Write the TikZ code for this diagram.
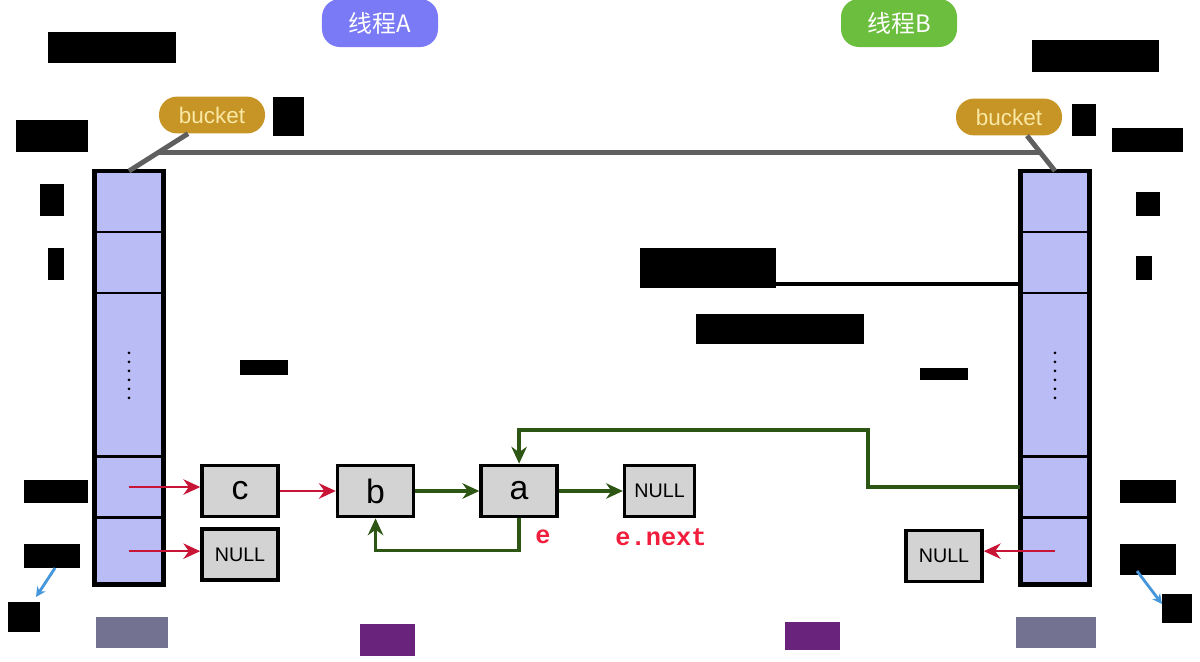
\documentclass[tikz,border=0pt]{standalone}
\usepackage{fontspec}
\setmainfont{Liberation Sans}
\setsansfont{Liberation Sans}
\newfontfamily\cjkfont{Noto Sans CJK SC}
\newfontfamily\codefont{Liberation Mono}
\usetikzlibrary{arrows.meta}
\usetikzlibrary{positioning,calc}
\definecolor{cellblue}{RGB}{186,188,246}
\definecolor{boxgray}{RGB}{211,211,211}
\definecolor{bucketgold}{RGB}{199,148,38}
\definecolor{buckettext}{RGB}{250,232,165}
\definecolor{threadblue}{RGB}{122,122,246}
\definecolor{threadgreen}{RGB}{108,190,62}
\definecolor{linkgreen}{RGB}{45,85,20}
\definecolor{linkred}{RGB}{200,20,55}
\definecolor{labelred}{RGB}{240,30,60}
\definecolor{pointblue}{RGB}{70,150,220}
\definecolor{shadegray}{RGB}{95,95,95}
\definecolor{notepurple}{RGB}{105,35,125}
\definecolor{notegray}{RGB}{115,115,145}
\tikzset{
	every node/.style={font=\sffamily}
}
\tikzset{
	cell/.style={rectangle,draw=black,line width=0.8pt,fill=cellblue,minimum width=1.7cm,inner sep=0pt},
	list node/.style={rectangle,draw=black,line width=2.5pt,fill=boxgray,minimum width=1.9cm,minimum height=1.28cm,font=\sffamily\fontsize{24}{24}\selectfont},
	null node/.style={list node,font=\sffamily\fontsize{14}{14}\selectfont},
	bucket tag/.style={rectangle,rounded corners=0.45cm,fill=bucketgold,text=buckettext,minimum width=2.65cm,minimum height=0.92cm,font=\sffamily\fontsize{16}{16}\selectfont},
	thread tag/.style={rectangle,rounded corners=0.45cm,text=white,minimum width=2.9cm,minimum height=1.2cm,font=\cjkfont\fontsize{17}{17}\selectfont}
}
\tikzset{
	>={Stealth[length=12pt,width=11pt]},
	red link/.style={->,draw=linkred,line width=1.6pt},
	green link/.style={->,draw=linkgreen,line width=2.6pt},
	gray link/.style={draw=shadegray,line width=3.5pt},
	blue pointer/.style={-{Stealth[length=7pt,width=7pt]},draw=pointblue,line width=2pt},
	e label/.style={text=labelred,font=\codefont\bfseries\fontsize{18}{18}\selectfont}
}

\begin{document}
\begin{tikzpicture}[x=0.025cm,y=-0.025cm]
	\useasboundingbox (0,0) rectangle (1200,662);
	% thread tags
	\node[thread tag,fill=threadblue] (threadA) at (380,23) {线程A};
	\node[thread tag,fill=threadgreen] (threadB) at (899,23) {线程B};
	% bucket arrays
	\foreach \side/\xc in {L/129,R/1055} {
		\node[cell,minimum height=1.5cm,anchor=north] (\side0) at (\xc,171) {};
		\node[cell,minimum height=1.5cm] (\side1) [below=0pt of \side0] {};
		\node[cell,minimum height=4.05cm] (\side2) [below=0pt of \side1] {};
		\node[cell,minimum height=1.5cm] (\side3) [below=0pt of \side2] {};
		\node[cell,minimum height=1.65cm] (\side4) [below=0pt of \side3] {};
		\draw[line width=3.2pt] (\side0.north west) rectangle (\side4.south east);
		\foreach \k in {0,...,5}
			\fill ($(\side2.center)+(0,-22+\k*9)$) circle (1.1pt);
	}
	\node[bucket tag] (bucketL) at (212,115) {bucket};
	\node[bucket tag] (bucketR) at (1009,117) {bucket};
	% list nodes
	\node[list node] (c) at (240,491) {c};
	\node[null node] (nullL) [below=0.22cm of c] {NULL};
	\node[list node] (b) [right=1.4cm of c] {b};
	\node[list node] (a) [right=1.6cm of b] {a};
	\node[null node,minimum width=1.75cm] (nullM) [right=1.6cm of a] {NULL};
	\node[null node] (nullR) at (944,556) {NULL};
	\node[e label] (e) at (543,537) {e};
	\node[e label] (enext) at (661,537) {e.next};
	% bucket pointers
	\coordinate (bl) at ($(bucketL.south)+(-24,0)$);
	\coordinate (br) at ($(bucketR.south)+(18,0)$);
	\draw[gray link] (bl) -- coordinate (hl) (L0.north);
	\draw[gray link] (br) -- coordinate (hr) (R0.north);
	\draw[gray link] (hl) -- (hl -| hr);
	% links
	\draw[red link] (L3.center) -- (L3.center -| c.west);
	\draw[red link] (L4.center) -- (L4.center -| nullL.west);
	\draw[red link] (c) -- (b);
	\draw[green link] (b) -- (a);
	\draw[green link] (a) -- (nullM);
	\draw[green link] (a.south) -- ++(0,32) -| (b.south);
	\coordinate (bend) at (868,430);
	\draw[green link] (R3.west) -| (bend) -| (a.north);
	\draw[red link] (R4.center) -- (R4.center -| nullR.east);
	\coordinate (tick) at (776,284);
	\draw[line width=2.5pt] (tick) -- (tick -| R1.west);
	% blotted notes
	\foreach \x/\y/\w/\h in {48/32/128/31, 16/120/72/32, 40/184/24/32, 48/248/16/32,
		273/97/31/39, 240/360/48/15, 24/480/64/23, 24/544/56/24, 8/602/32/30,
		1032/40/127/32, 1072/104/24/32, 1112/128/71/24, 1136/192/24/24, 1136/256/16/24,
		640/248/136/40, 696/314/168/30, 920/368/48/12, 1120/480/56/23, 1120/544/56/31, 1162/594/30/29}
		\fill[black] (\x,\y) rectangle ++(\w,\h);
	\fill[notegray] (96,617) rectangle ++(72,31);
	\fill[notegray] (1016,617) rectangle ++(80,31);
	\fill[notepurple] (360,624) rectangle ++(55,32);
	\fill[notepurple] (785,622) rectangle ++(55,28);
	\coordinate (pl1) at (55,568);
	\coordinate (pl2) at (36,597);
	\coordinate (pr1) at (1137,571);
	\coordinate (pr2) at (1162,604);
	\draw[blue pointer] (pl1) -- (pl2);
	\draw[blue pointer] (pr1) -- (pr2);
\end{tikzpicture}
\end{document}
